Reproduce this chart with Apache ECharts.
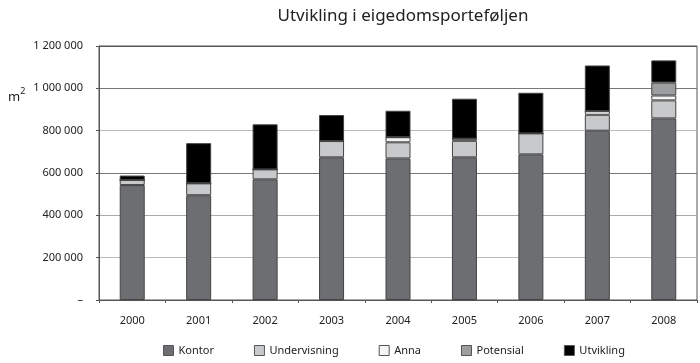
<!DOCTYPE html>
<html>
<head>
<meta charset="utf-8">
<script src="https://cdn.jsdelivr.net/npm/echarts@6/dist/echarts.min.js"></script>
<style>html,body{margin:0;padding:0;background:#fff}#c{width:700px;height:363px}</style>
</head>
<body>
<div id="c"></div>
<script>
const categories = ['2000','2001','2002','2003','2004','2005','2006','2007','2008'];
const kontor       = [543000, 495000, 570000, 674000, 669000, 674000, 688000, 800000, 858000];
const undervisning = [24000, 56000, 47000, 77000, 76000, 78000, 99000, 75000, 85000];
const anna         = [0, 0, 0, 0, 24000, 10000, 0, 17000, 23000];
const potensial    = [0, 0, 0, 0, 0, 0, 0, 0, 61000];
const utvikling    = [21000, 190000, 213000, 123000, 125000, 189000, 192000, 216000, 105000];
const seriesNames = ['Kontor','Undervisning','Anna','Potensial','Utvikling'];
const yTicks = [0, 200000, 400000, 600000, 800000, 1000000, 1200000];

const font = 'Noto Sans';
const colors = ['#6d6e71', '#c8c9cb', '#f4f4f4', '#9d9ea0', '#000000'];
const data = [kontor, undervisning, anna, potensial, utvikling];

function fmt(v) {
  if (v === 0) return '–';
  return String(v).replace(/\B(?=(\d{3})+(?!\d))/g, ' ');
}

const chart = echarts.init(document.getElementById('c'), null, {renderer: 'canvas'});
chart.setOption({
  animation: false,
  color: colors,
  title: {
    text: 'Utvikling i eigedomsporteføljen',
    left: 398, top: 3, textAlign: 'center',
    textStyle: {fontFamily: font, fontSize: 17, fontWeight: 'normal', color: '#222'}
  },
  grid: {left: 99, right: 3, top: 46, bottom: 63, show: true, borderColor: '#555', borderWidth: 1, backgroundColor: 'transparent'},
  legend: {
    bottom: 2, left: 158, itemWidth: 10, itemHeight: 10, itemGap: 40, icon: 'rect',
    data: seriesNames,
    textStyle: {fontFamily: font, fontSize: 11, color: '#222'},
    itemStyle: {borderColor: '#555', borderWidth: 1}
  },
  xAxis: {
    type: 'category', data: categories,
    axisLine: {lineStyle: {color: '#555'}},
    axisTick: {show: true, length: 3, lineStyle: {color: '#555'}},
    axisLabel: {fontFamily: font, fontSize: 11, color: '#222', margin: 15}
  },
  yAxis: {
    type: 'value', min: yTicks[0], max: yTicks[yTicks.length - 1], interval: 200000,
    axisLine: {show: true, lineStyle: {color: '#555'}},
    axisTick: {show: true, length: 3, lineStyle: {color: '#555'}},
    splitLine: {show: true, lineStyle: {color: ['#555', '#bbb', '#aaa', '#777', '#bbb', '#777', '#555'], width: 1}},
    axisLabel: {fontFamily: font, fontSize: 11, color: '#222', margin: 16, formatter: fmt}
  },
  graphic: [{
    type: 'text', left: 8, top: 87,
    style: {
      text: '{a|m}{b|2}',
      rich: {
        a: {fontFamily: font, fontSize: 13, fill: '#222', verticalAlign: 'bottom'},
        b: {fontFamily: font, fontSize: 9, fill: '#222', padding: [0, 0, 8, 0], verticalAlign: 'top'}
      }
    }
  }],
  series: seriesNames.map((n, i) => ({
    name: n, type: 'bar', stack: 'total', barWidth: 25,
    data: data[i],
    itemStyle: {color: colors[i], borderColor: '#444', borderWidth: 1}
  }))
});
</script>
</body>
</html>
